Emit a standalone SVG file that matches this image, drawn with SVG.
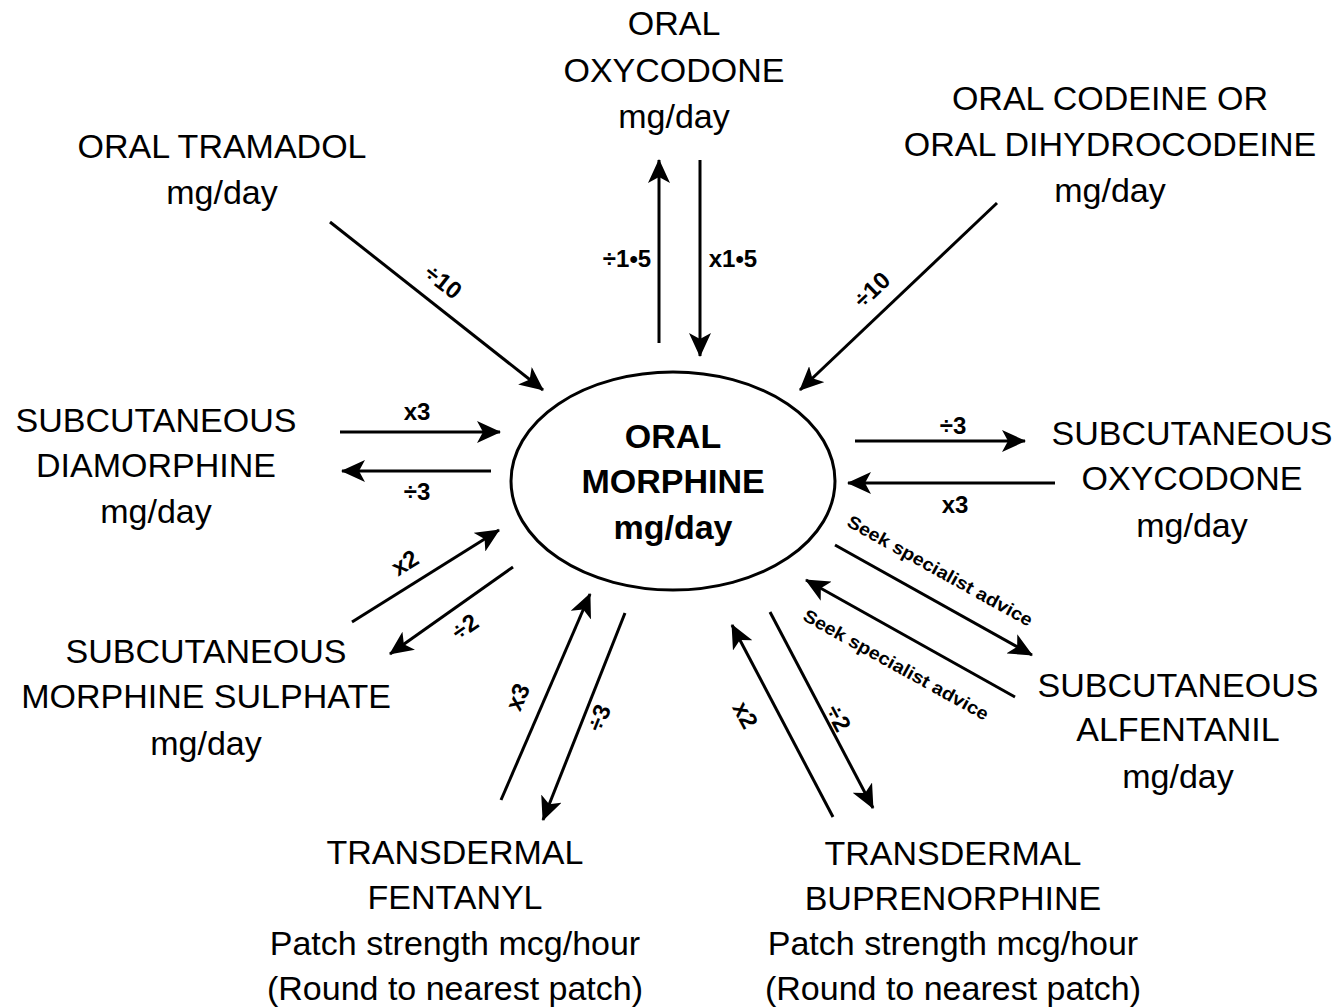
<svg xmlns="http://www.w3.org/2000/svg" width="1338" height="1008" viewBox="0 0 1338 1008">
<style>
.t{font-family:"Liberation Sans",Arial,sans-serif;font-size:34px;fill:#000;text-anchor:middle}
.c{font-family:"Liberation Sans",Arial,sans-serif;font-size:34px;font-weight:bold;fill:#000;text-anchor:middle}
.l{font-family:"Liberation Sans",Arial,sans-serif;font-size:24px;font-weight:bold;fill:#000;text-anchor:middle}
.s{font-family:"Liberation Sans",Arial,sans-serif;font-size:18px;font-weight:bold;fill:#000;text-anchor:middle}
.a{stroke:#000;stroke-width:3;fill:none;marker-end:url(#ah)}
</style>
<defs>
<marker id="ah" markerUnits="userSpaceOnUse" viewBox="0 0 24 22" refX="23" refY="11" markerWidth="24" markerHeight="22" orient="auto">
<path d="M0,0 L24,11 L0,22 L6,11 Z" fill="#000"/>
</marker>
</defs>
<rect width="1338" height="1008" fill="#fff"/>
<g id="oral-morphine">
<ellipse cx="673" cy="481" rx="162" ry="109" fill="#fff" stroke="#000" stroke-width="3"/>
<text class="c" x="673" y="448">ORAL</text>
<text class="c" x="673" y="493">MORPHINE</text>
<text class="c" x="673" y="539">mg/day</text>
</g>
<g id="oral-tramadol">
<text class="t" x="222" y="158">ORAL TRAMADOL</text>
<text class="t" x="222" y="204">mg/day</text>
</g>
<g id="oral-oxycodone">
<text class="t" x="674" y="35">ORAL</text>
<text class="t" x="674" y="82">OXYCODONE</text>
<text class="t" x="674" y="128">mg/day</text>
</g>
<g id="oral-codeine">
<text class="t" x="1110" y="110">ORAL CODEINE OR</text>
<text class="t" x="1110" y="156">ORAL DIHYDROCODEINE</text>
<text class="t" x="1110" y="202">mg/day</text>
</g>
<g id="sc-diamorphine">
<text class="t" x="156" y="432">SUBCUTANEOUS</text>
<text class="t" x="156" y="477">DIAMORPHINE</text>
<text class="t" x="156" y="523">mg/day</text>
</g>
<g id="sc-oxycodone">
<text class="t" x="1192" y="445">SUBCUTANEOUS</text>
<text class="t" x="1192" y="490">OXYCODONE</text>
<text class="t" x="1192" y="537">mg/day</text>
</g>
<g id="sc-morphine-sulphate">
<text class="t" x="206" y="663">SUBCUTANEOUS</text>
<text class="t" x="206" y="708">MORPHINE SULPHATE</text>
<text class="t" x="206" y="755">mg/day</text>
</g>
<g id="sc-alfentanil">
<text class="t" x="1178" y="697">SUBCUTANEOUS</text>
<text class="t" x="1178" y="741">ALFENTANIL</text>
<text class="t" x="1178" y="788">mg/day</text>
</g>
<g id="td-fentanyl">
<text class="t" x="455" y="864">TRANSDERMAL</text>
<text class="t" x="455" y="909">FENTANYL</text>
<text class="t" x="455" y="955">Patch strength mcg/hour</text>
<text class="t" x="455" y="1000">(Round to nearest patch)</text>
</g>
<g id="td-buprenorphine">
<text class="t" x="953" y="865">TRANSDERMAL</text>
<text class="t" x="953" y="910">BUPRENORPHINE</text>
<text class="t" x="953" y="955">Patch strength mcg/hour</text>
<text class="t" x="953" y="1000">(Round to nearest patch)</text>
</g>
<g id="connectors">
<line class="a" x1="330" y1="222" x2="543" y2="390"/>
<text class="l" transform="translate(443,282) rotate(38)" y="8">÷10</text>
<line class="a" x1="659" y1="343" x2="659" y2="160"/>
<text class="l" x="627" y="267">÷1•5</text>
<line class="a" x1="700" y1="160" x2="700" y2="356"/>
<text class="l" x="733" y="267">x1•5</text>
<line class="a" x1="997" y1="203" x2="800" y2="390"/>
<text class="l" transform="translate(872,290) rotate(-43.5)" y="8">÷10</text>
<line class="a" x1="340" y1="432" x2="500" y2="432"/>
<text class="l" x="417" y="420">x3</text>
<line class="a" x1="491" y1="471" x2="342" y2="471"/>
<text class="l" x="417" y="500">÷3</text>
<line class="a" x1="855" y1="441" x2="1025" y2="441"/>
<text class="l" x="953" y="434">÷3</text>
<line class="a" x1="1055" y1="483" x2="848" y2="483"/>
<text class="l" x="955" y="513">x3</text>
<line class="a" x1="352" y1="622" x2="499" y2="530"/>
<text class="l" transform="translate(405,563) rotate(-32)" y="8">x2</text>
<line class="a" x1="513" y1="567" x2="390" y2="654"/>
<text class="l" transform="translate(465,627) rotate(-35)" y="8">÷2</text>
<line class="a" x1="501" y1="800" x2="590" y2="594"/>
<text class="l" transform="translate(518,697) rotate(-66.6)" y="8">x3</text>
<line class="a" x1="625" y1="613" x2="543" y2="820"/>
<text class="l" transform="translate(599,718) rotate(-68)" y="8">÷3</text>
<line class="a" x1="833" y1="817" x2="732" y2="625"/>
<text class="l" transform="translate(745,715) rotate(62)" y="8">x2</text>
<line class="a" x1="770" y1="612" x2="873" y2="808"/>
<text class="l" transform="translate(838,718) rotate(62)" y="8">÷2</text>
<line class="a" x1="835" y1="545" x2="1032" y2="655"/>
<text class="s" transform="translate(940,571) rotate(29)" y="6" textLength="209" lengthAdjust="spacingAndGlyphs">Seek specialist advice</text>
<line class="a" x1="1015" y1="697" x2="806" y2="580"/>
<text class="s" transform="translate(896,665) rotate(29)" y="6" textLength="209" lengthAdjust="spacingAndGlyphs">Seek specialist advice</text>
</g>
</svg>
